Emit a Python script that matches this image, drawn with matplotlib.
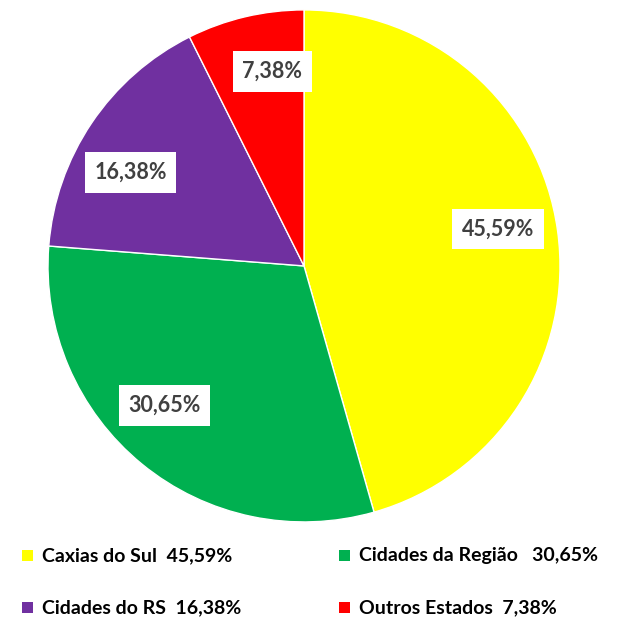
import matplotlib

matplotlib.use("Agg")

import matplotlib.pyplot as plt
import numpy as np

plt.rcParams["font.family"] = ["Lato", "DejaVu Sans"]

categories = ["Caxias do Sul", "Cidades da Região", "Cidades do RS", "Outros Estados"]
shares = [45.59, 30.65, 16.38, 7.38]
share_labels = ["45,59%", "30,65%", "16,38%", "7,38%"]
legend_labels = ["Caxias do Sul  45,59%", "Cidades da Região   30,65%",
                 "Cidades do RS  16,38%", "Outros Estados  7,38%"]
colors = ["#FFFF00", "#00B050", "#7030A0", "#FF0000"]
# small angular nudges of the data labels (degrees), as in the original layout
label_nudge = [2.8, -5.7, 5.6, -4.0]


def main() -> None:
    fig = plt.figure(figsize=(6.29, 6.17), dpi=100)
    ax = fig.add_axes([0.0763, 0.154, 0.814, 0.830])

    wedges, _ = ax.pie(
        shares,
        colors=colors,
        startangle=90,
        counterclock=False,
        wedgeprops={"edgecolor": "white", "linewidth": 1},
    )
    ax.set_xlim(-1, 1)
    ax.set_ylim(-1, 1)
    ax.set_aspect("equal")

    for w, lab, nudge in zip(wedges, share_labels, label_nudge):
        ang = np.deg2rad((w.theta1 + w.theta2) / 2 + nudge)
        d = 0.77
        ax.text(d * np.cos(ang), d * np.sin(ang), lab, ha="center", va="center",
                fontsize=15.5, fontweight="bold", color="#404040",
                bbox={"boxstyle": "square,pad=0.45", "facecolor": "white", "edgecolor": "none"})

    # legend, 2 x 2 layout
    xs = [0.035, 0.539]
    ys = [0.100, 0.016]
    for i, (lab, col) in enumerate(zip(legend_labels, colors)):
        x = xs[i % 2]
        y = ys[i // 2]
        fig.patches.append(plt.Rectangle((x, y - 0.009), 0.017, 0.017,
                                         transform=fig.transFigure, facecolor=col,
                                         edgecolor="none"))
        fig.text(x + 0.031, y - 0.001, lab, ha="left", va="center", fontsize=14,
                 fontweight="bold", color="black")

    fig.savefig("out.png", dpi=100)
    plt.close(fig)


if __name__ == "__main__":
    main()
